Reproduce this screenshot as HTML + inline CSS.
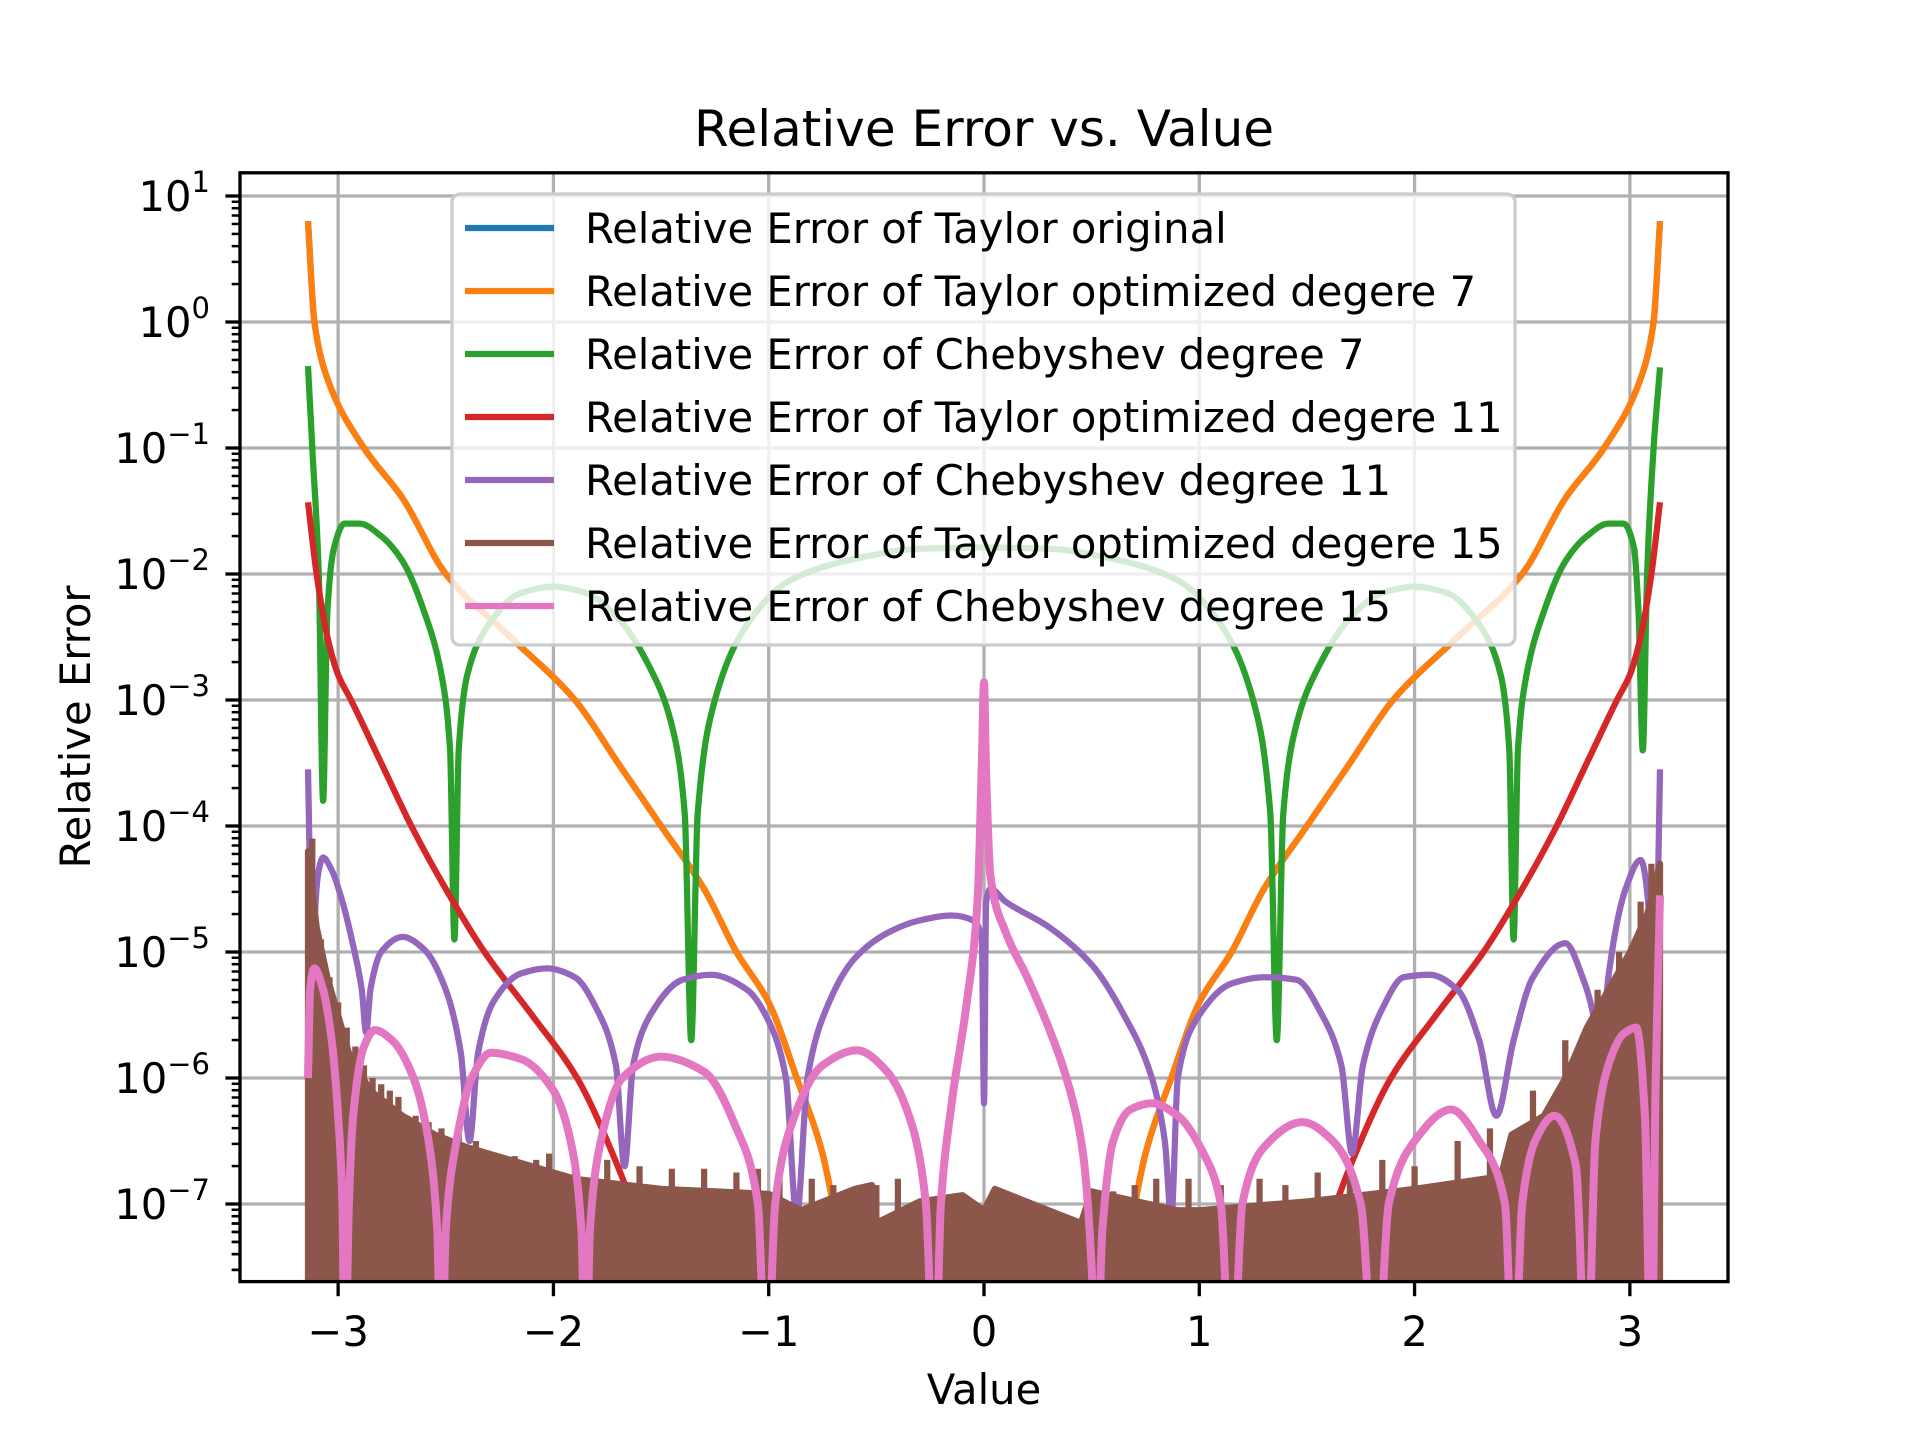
<!DOCTYPE html>
<html><head><meta charset="utf-8"><style>
html,body{margin:0;padding:0;background:#fff;}
svg{display:block;font-family:"DejaVu Sans","Liberation Sans",sans-serif;}
</style></head><body>
<svg id="chart" width="1920" height="1440" viewBox="0 0 1920 1440" xmlns="http://www.w3.org/2000/svg">
<defs><clipPath id="plotclip"><rect x="240" y="172.8" width="1488" height="1108.8"/></clipPath></defs>
<rect x="0" y="0" width="1920" height="1440" fill="#fff"/>
<text x="984" y="146" font-size="50" text-anchor="middle">Relative Error vs. Value</text>
<g id="grid"></g>
<g id="series" clip-path="url(#plotclip)"></g>
<rect x="240" y="172.8" width="1488" height="1108.8" fill="none" stroke="#000" stroke-width="3.3"/>
<g id="axes"></g>
<text x="984" y="1404" font-size="41.7" text-anchor="middle">Value</text>
<text x="90" y="727" font-size="41.7" text-anchor="middle" transform="rotate(-90 90 727)">Relative Error</text>
<g id="legend"></g>
</svg>
<script>
const xTicks=[-3,-2,-1,0,1,2,3];
const xTickLabels=["\u22123","\u22122","\u22121","0","1","2","3"];
const yDecades=[1,0,-1,-2,-3,-4,-5,-6,-7];
const yTickExp=["1","0","\u22121","\u22122","\u22123","\u22124","\u22125","\u22126","\u22127"];
const seriesNames=["Relative Error of Taylor original","Relative Error of Taylor optimized degere 7","Relative Error of Chebyshev degree 7","Relative Error of Taylor optimized degere 11","Relative Error of Chebyshev degree 11","Relative Error of Taylor optimized degere 15","Relative Error of Chebyshev degree 15"];
const seriesColors=["#1f77b4","#ff7f0e","#2ca02c","#d62728","#9467bd","#8c564b","#e377c2"];

const taylorX=[-3.14,-3.11,-3.05,-2.88,-2.7,-2.5,-2.2,-1.9,-1.7,-1.5,-1.3,-1.15,-1.0,-0.87,-0.75,-0.68,-0.6,0.6,0.68,0.75,0.87,1.0,1.15,1.3,1.5,1.7,1.9,2.2,2.5,2.7,2.88,3.05,3.11,3.14];
const taylorLog=[0.8,0,-0.45,-1,-1.4,-2,-2.5,-3,-3.5,-4,-4.5,-5,-5.4,-6,-6.6,-7.2,-8,-8,-7.2,-6.6,-6,-5.4,-5,-4.5,-4,-3.5,-3,-2.5,-2,-1.4,-1,-0.45,0,0.8];
const orangeX=taylorX.slice();
const orangeLog=taylorLog.slice();

const greenX=[-3.14,-3.12,-3.09,-3.07,-3.05,-3.02,-2.97,-2.9,-2.8,-2.7,-2.6,-2.52,-2.48,-2.46,-2.44,-2.4,-2.3,-2.15,-2.0,-1.85,-1.7,-1.55,-1.45,-1.39,-1.36,-1.33,-1.25,-1.1,-0.9,-0.6,-0.3,0,0.3,0.6,0.9,1.1,1.25,1.33,1.36,1.39,1.45,1.55,1.7,1.85,2.0,2.15,2.3,2.4,2.44,2.46,2.48,2.52,2.6,2.7,2.8,2.9,2.97,3.02,3.04,3.06,3.08,3.11,3.14];
const greenLog=[-0.35,-1.0,-2.0,-3.8,-2.3,-1.8,-1.6,-1.6,-1.7,-1.9,-2.3,-2.8,-3.4,-4.9,-3.4,-2.8,-2.4,-2.15,-2.1,-2.15,-2.35,-2.75,-3.2,-3.9,-5.7,-3.9,-3.0,-2.4,-2.05,-1.88,-1.8,-1.79,-1.8,-1.88,-2.05,-2.4,-3.0,-3.9,-5.7,-3.9,-3.2,-2.75,-2.35,-2.15,-2.1,-2.15,-2.4,-2.8,-3.4,-4.9,-3.4,-2.8,-2.3,-1.9,-1.7,-1.6,-1.6,-1.8,-2.3,-3.4,-2.0,-1.0,-0.36];

const redX=[-3.14,-3.1,-3.05,-3.0,-2.94,-2.8,-2.66,-2.5,-2.32,-2.1,-1.89,-1.75,-1.6,-1.5,1.5,1.6,1.75,1.89,2.1,2.32,2.5,2.66,2.8,2.94,3.0,3.05,3.1,3.14];
const redLog=[-1.43,-2.0,-2.5,-2.8,-3,-3.5,-4,-4.5,-5,-5.5,-6,-6.5,-7.2,-8,-8,-7.2,-6.5,-6,-5.5,-5,-4.5,-4,-3.5,-3,-2.8,-2.5,-2.0,-1.43];

const purpleX=[-3.14,-3.13,-3.12,-3.11,-3.09,-3.07,-3.03,-2.98,-2.93,-2.89,-2.87,-2.85,-2.8,-2.7,-2.6,-2.5,-2.43,-2.39,-2.35,-2.28,-2.15,-2.03,-1.9,-1.8,-1.71,-1.67,-1.63,-1.55,-1.4,-1.27,-1.1,-1.0,-0.92,-0.87,-0.82,-0.72,-0.6,-0.45,-0.3,-0.15,-0.05,-0.01,0,0.01,0.03,0.1,0.3,0.5,0.65,0.78,0.84,0.87,0.9,1.0,1.15,1.3,1.45,1.57,1.66,1.71,1.76,1.85,1.95,2.07,2.2,2.3,2.38,2.46,2.55,2.7,2.78,2.84,2.86,2.9,2.98,3.05,3.09,3.11,3.13,3.14];
const purpleLog=[-3.55,-4.5,-6.35,-4.8,-4.35,-4.25,-4.35,-4.6,-4.95,-5.3,-5.64,-5.3,-5.0,-4.88,-4.98,-5.3,-5.8,-6.5,-5.8,-5.4,-5.17,-5.13,-5.2,-5.45,-5.9,-6.7,-5.9,-5.5,-5.22,-5.18,-5.3,-5.55,-6.0,-7.1,-6.0,-5.4,-5.05,-4.85,-4.75,-4.71,-4.75,-4.9,-6.2,-4.6,-4.5,-4.6,-4.8,-5.1,-5.5,-6.0,-6.5,-7.1,-6.0,-5.5,-5.25,-5.2,-5.22,-5.5,-5.9,-6.6,-5.9,-5.45,-5.2,-5.18,-5.3,-5.7,-6.3,-5.7,-5.2,-4.93,-5.2,-5.6,-6.0,-5.2,-4.5,-4.27,-4.7,-6.1,-4.5,-3.55];

const brownBaseX=[-3.14,-3.1,-3.05,-3.0,-2.95,-2.85,-2.7,-2.55,-2.4,-2.2,-2.0,-1.9,-1.5,-1.0,-0.85,-0.6,-0.52,-0.5,-0.3,-0.1,0,0.05,0.3,0.45,0.5,0.9,1.0,1.5,2.0,2.4,2.45,2.6,2.7,2.8,2.9,3.0,3.08,3.14];
const brownBaseLog=[-4.2,-4.8,-5.2,-5.5,-5.8,-6.1,-6.3,-6.45,-6.55,-6.65,-6.75,-6.8,-6.88,-6.92,-7.05,-6.88,-6.85,-7.15,-6.98,-6.93,-7.05,-6.88,-7.05,-7.15,-6.9,-7.05,-7.05,-6.98,-6.88,-6.78,-6.45,-6.3,-6.0,-5.6,-5.3,-5.0,-4.7,-4.3];
const brownSpikeX=[-3.12,-3.08,-3.04,-3.0,-2.96,-2.92,-2.88,-2.84,-2.8,-2.76,-2.72,-2.68,-2.64,-2.58,-2.52,-2.44,-2.36,-2.28,-2.18,-2.08,-2.02,-1.9,-1.75,-1.6,-1.45,-1.3,-1.15,-1.05,-0.95,-0.8,-0.7,-0.5,-0.4,0.6,0.7,0.8,0.95,1.1,1.28,1.4,1.55,1.7,1.85,2.0,2.2,2.35,2.55,2.7,2.85,2.95,3.05,3.1];
const brownSpikeLog=[-4.1,-4.9,-5.2,-5.4,-5.6,-5.75,-5.9,-6.0,-6.05,-6.1,-6.15,-6.3,-6.3,-6.35,-6.4,-6.45,-6.5,-6.6,-6.62,-6.65,-6.6,-6.7,-6.65,-6.7,-6.72,-6.72,-6.75,-6.72,-6.8,-6.8,-6.85,-6.85,-6.8,-6.9,-6.85,-6.8,-6.8,-6.85,-6.8,-6.85,-6.75,-6.7,-6.65,-6.7,-6.5,-6.4,-6.1,-5.7,-5.3,-5.0,-4.6,-4.3];

const pinkX=[-3.14,-3.13,-3.11,-3.07,-3.03,-3.0,-2.98,-2.97,-2.95,-2.93,-2.88,-2.83,-2.75,-2.65,-2.58,-2.54,-2.52,-2.5,-2.45,-2.38,-2.29,-2.15,-2.0,-1.92,-1.87,-1.85,-1.83,-1.78,-1.68,-1.5,-1.3,-1.15,-1.05,-1.01,-0.97,-0.9,-0.75,-0.59,-0.45,-0.33,-0.27,-0.23,-0.2,-0.15,-0.08,-0.03,-0.01,0,0.01,0.03,0.1,0.2,0.3,0.4,0.46,0.5,0.52,0.55,0.6,0.68,0.78,0.9,1.02,1.1,1.15,1.2,1.3,1.48,1.62,1.75,1.82,1.88,2.0,2.17,2.3,2.42,2.46,2.5,2.56,2.65,2.75,2.8,2.84,2.9,2.97,3.03,3.07,3.1,3.12,3.14];
const pinkLog=[-6.0,-5.3,-5.13,-5.3,-5.7,-6.3,-7.0,-8.5,-7.0,-6.3,-5.75,-5.62,-5.7,-6.0,-6.5,-7.2,-8.5,-7.2,-6.5,-6.0,-5.8,-5.85,-6.1,-6.5,-7.2,-8.5,-7.2,-6.5,-6.0,-5.83,-5.95,-6.4,-7.0,-8.5,-7.0,-6.4,-5.9,-5.78,-5.95,-6.4,-7.0,-8.5,-7.0,-6.2,-5.4,-4.6,-3.5,-2.86,-3.6,-4.4,-4.84,-5.2,-5.6,-6.1,-6.6,-7.5,-8.5,-7.2,-6.5,-6.25,-6.2,-6.3,-6.6,-7.0,-8.5,-7.0,-6.55,-6.35,-6.5,-7.0,-8.5,-7.0,-6.5,-6.25,-6.5,-7.0,-8.5,-7.0,-6.5,-6.3,-6.7,-8.5,-6.5,-5.9,-5.65,-5.6,-6.3,-8.5,-6.0,-4.55];

const NS="http://www.w3.org/2000/svg";
const L=240,R=1728,T=172.8,B=1281.6;
const xMin=-3.4558,xMax=3.4558,yMinLog=-7.61,yMaxLog=1.186;
function xs(v){return L+(v-xMin)/(xMax-xMin)*(R-L);}
function ys(lg){return 196-126*(lg-1);}
function mk(tag,attrs,parent){const e=document.createElementNS(NS,tag);for(const k in attrs)e.setAttribute(k,attrs[k]);parent.appendChild(e);return e;}
const grid=document.getElementById('grid'),axes=document.getElementById('axes'),series=document.getElementById('series'),legend=document.getElementById('legend');

xTicks.forEach((t,i)=>{
  const x=xs(t);
  const g=mk('line',{x1:x,x2:x,y1:T,y2:B,stroke:'#b0b0b0','stroke-width':3.3},grid);
  
  
  const tk=mk('line',{x1:x,x2:x,y1:B,y2:B+14.6,stroke:'#000','stroke-width':3.3},axes);
  
  
  const lb=mk('text',{x:x,y:1346,'font-size':41.7,'text-anchor':'middle'},axes);
  lb.textContent=xTickLabels[i];
  
  
});
function minorTick(lg){
  if(lg<yMinLog||lg>yMaxLog)return;
  const mt=mk('line',{x1:L-8.3,x2:L,y1:ys(lg),y2:ys(lg),stroke:'#000','stroke-width':2.5},axes);
  
  
}
yDecades.forEach((d,i)=>{
  const y=ys(d);
  const g=mk('line',{x1:L,x2:R,y1:y,y2:y,stroke:'#b0b0b0','stroke-width':3.3},grid);
  
  
  const tk=mk('line',{x1:L-14.6,x2:L,y1:y,y2:y,stroke:'#000','stroke-width':3.3},axes);
  
  
  const lb=mk('text',{x:210,y:y+15,'font-size':41.7,'text-anchor':'end'},axes);
  
  
  const base=document.createElementNS(NS,'tspan');base.textContent='10';lb.appendChild(base);
  const sup=document.createElementNS(NS,'tspan');sup.setAttribute('dy','-19');sup.setAttribute('font-size','29');sup.textContent=yTickExp[i];lb.appendChild(sup);
  for(let m=2;m<=9;m++)minorTick(d-1+Math.log10(m));
});
for(let m=2;m<=9;m++){minorTick(1+Math.log10(m));minorTick(-8+Math.log10(m));}

// monotone cubic path rendering
function linePath(X,Y){
  const px=X.map(xs),py=Y.map(ys),n=px.length;
  if(n<3)return px.map((v,i)=>(i?'L':'M')+v+' '+py[i]).join(' ');
  const dx=[],s=[];
  for(let i=0;i<n-1;i++){dx.push(px[i+1]-px[i]);s.push(dx[i]?(py[i+1]-py[i])/dx[i]:0);}
  const m=new Array(n);
  m[0]=s[0];m[n-1]=s[n-2];
  for(let i=1;i<n-1;i++){
    if(s[i-1]*s[i]<=0)m[i]=0;
    else{const w1=2*dx[i]+dx[i-1],w2=dx[i]+2*dx[i-1];m[i]=(w1+w2)/(w1/s[i-1]+w2/s[i]);}
  }
  let d='M'+px[0].toFixed(1)+' '+py[0].toFixed(1);
  for(let i=0;i<n-1;i++){
    const h=dx[i]/3;
    d+=' C'+(px[i]+h).toFixed(1)+' '+(py[i]+m[i]*h).toFixed(1)+' '+(px[i+1]-h).toFixed(1)+' '+(py[i+1]-m[i+1]*h).toFixed(1)+' '+px[i+1].toFixed(1)+' '+py[i+1].toFixed(1);
  }
  return d;
}
function drawLine(X,Y,color,w,name){
  const p=mk('path',{d:linePath(X,Y),fill:'none',stroke:color,'stroke-width':w,'stroke-linejoin':'round','stroke-linecap':'butt'},series);
  
  
}
drawLine(taylorX,taylorLog,seriesColors[0],6.25,'taylor-original-line');
drawLine(orangeX,orangeLog,seriesColors[1],6.25,'taylor-deg7-line');
drawLine(greenX,greenLog,seriesColors[2],6.25,'chebyshev-deg7-line');
drawLine(redX,redLog,seriesColors[3],6.25,'taylor-deg11-line');
drawLine(purpleX,purpleLog,seriesColors[4],6.25,'chebyshev-deg11-line');
{
  let d='M'+xs(brownBaseX[0]).toFixed(1)+' '+(B+20);
  brownBaseX.forEach((v,i)=>{d+=' L'+xs(v).toFixed(1)+' '+ys(brownBaseLog[i]).toFixed(1);});
  d+=' L'+xs(brownBaseX[brownBaseX.length-1]).toFixed(1)+' '+(B+20)+' Z';
  const a=mk('path',{d:d,fill:seriesColors[5],stroke:seriesColors[5],'stroke-width':6.25,'stroke-linejoin':'round'},series);
  
  
  brownSpikeX.forEach((v,i)=>{
    const s=mk('line',{x1:xs(v),x2:xs(v),y1:ys(brownSpikeLog[i]),y2:B+20,stroke:seriesColors[5],'stroke-width':6.25},series);
    
    
  });
}
drawLine(pinkX,pinkLog,seriesColors[6],8,'chebyshev-deg15-line');

const lg=mk('rect',{x:452,y:194,width:1063,height:451,rx:8,fill:'#fff','fill-opacity':0.8,stroke:'#cccccc','stroke-width':3.3},legend);


seriesNames.forEach((n,i)=>{
  const y=228+63*i;
  const h=mk('line',{x1:465,x2:554,y1:y,y2:y,stroke:seriesColors[i],'stroke-width':6.25},legend);
  
  
  const t=mk('text',{x:585,y:y+15,'font-size':41.7},legend);
  t.textContent=n;
  
  
});
</script>
</body></html>
